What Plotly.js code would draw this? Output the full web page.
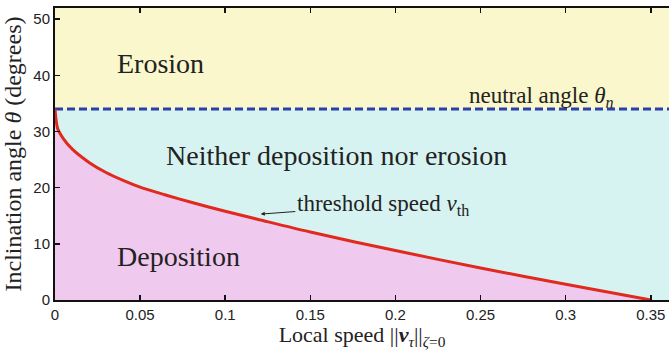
<!DOCTYPE html>
<html>
<head>
<meta charset="utf-8">
<script src="https://cdn.plot.ly/plotly-3.0.1.min.js"></script>
<style>html,body{margin:0;padding:0;background:#fff;}#chart{width:670px;height:350px;}</style>
</head>
<body>
<div id="chart"></div>
<script>
// Threshold speed curve (local speed vs inclination angle)
const speedX = [0, 0.0016, 0.005, 0.01, 0.02, 0.03, 0.04, 0.05, 0.065, 0.08, 0.1, 0.12, 0.15, 0.2, 0.25, 0.3, 0.35];
const thresholdAngle = [34, 30.5, 28.7, 26.9, 24.5, 22.7, 21.3, 20.1, 18.7, 17.4, 15.8, 14.3, 12.1, 8.8, 5.7, 2.8, 0];
const neutralAngle = 34;
const xRange = [0, 0.3607];
const yRange = [0, 52];
const xTickVals = [0, 0.05, 0.1, 0.15, 0.2, 0.25, 0.3, 0.35];
const xTickText = ['0', '0.05', '0.1', '0.15', '0.2', '0.25', '0.3', '0.35'];
const yTickVals = [0, 10, 20, 30, 40, 50];
const yTickText = ['0', '10', '20', '30', '40', '50'];

const serif = 'Liberation Serif, Times New Roman, serif';
const sans = 'Liberation Sans, Arial, sans-serif';

const traces = [
  { // erosion region (above neutral angle)
    x: [xRange[0], xRange[1], xRange[1], xRange[0]],
    y: [neutralAngle, neutralAngle, yRange[1], yRange[1]],
    mode: 'none', fill: 'toself', fillcolor: '#f9f7cb', hoverinfo: 'skip', showlegend: false
  },
  { // deposition region (below threshold curve)
    x: speedX, y: thresholdAngle, mode: 'none', fill: 'tozeroy',
    fillcolor: '#efc9ee', line: {shape: 'spline', smoothing: 0.8}, hoverinfo: 'skip', showlegend: false
  },
  { // neutral angle dashed line
    x: [xRange[0], xRange[1]], y: [neutralAngle, neutralAngle], mode: 'lines',
    line: {color: '#2b3fa6', width: 3, dash: '8px,4px'}, showlegend: false
  },
  { // threshold curve
    x: speedX, y: thresholdAngle, mode: 'lines',
    line: {color: '#e02a1e', width: 3, shape: 'spline', smoothing: 0.8}, showlegend: false
  }
];

const layout = {
  width: 670, height: 350,
  margin: {l: 55, r: 1, t: 8, b: 50},
  paper_bgcolor: '#ffffff',
  plot_bgcolor: '#d7f3f1',
  xaxis: {
    range: xRange, tickvals: xTickVals, ticktext: xTickText,
    ticks: 'inside', ticklen: 5, tickwidth: 1.5, tickcolor: '#111',
    showline: true, linecolor: '#111', linewidth: 2, mirror: 'ticks',
    showgrid: false, zeroline: false,
    tickfont: {family: sans, size: 15, color: '#222'},
    title: {text: 'Local speed ||<b><i>v</i></b><sub><i>τ</i></sub>||<sub><i>ζ</i>=0</sub>',
            font: {family: serif, size: 22, color: '#222'}, standoff: 8}
  },
  yaxis: {
    range: yRange, tickvals: yTickVals, ticktext: yTickText,
    ticks: 'inside', ticklen: 5, tickwidth: 1.5, tickcolor: '#111',
    showline: true, linecolor: '#111', linewidth: 2,
    showgrid: false, zeroline: false,
    tickfont: {family: sans, size: 15, color: '#222'},
    title: {text: 'Inclination angle <i>θ</i> (degrees)',
            font: {family: serif, size: 24, color: '#222'}, standoff: 6}
  },
  annotations: [
    {x: 0.062, y: 42.2, text: 'Erosion', showarrow: false,
     font: {family: serif, size: 28, color: '#222'}},
    {x: 0.1654, y: 25.7, text: 'Neither deposition nor erosion', showarrow: false,
     font: {family: serif, size: 28, color: '#222'}},
    {x: 0.0726, y: 7.7, text: 'Deposition', showarrow: false,
     font: {family: serif, size: 28, color: '#222'}},
    {x: 0.2858, y: 36.2, text: 'neutral angle <i>θ</i><sub><i>n</i></sub>', showarrow: false,
     font: {family: serif, size: 23, color: '#222'}},
    {x: 0.1209, y: 15.3, text: 'threshold speed <i>v</i><sub>th</sub>', showarrow: true,
     ax: 122, ay: -9, arrowhead: 2, arrowsize: 0.8, arrowwidth: 1, arrowcolor: '#222', standoff: 0,
     font: {family: serif, size: 23, color: '#222'}}
  ]
};

Plotly.newPlot('chart', traces, layout, {displayModeBar: false, staticPlot: true});
</script>
</body>
</html>
